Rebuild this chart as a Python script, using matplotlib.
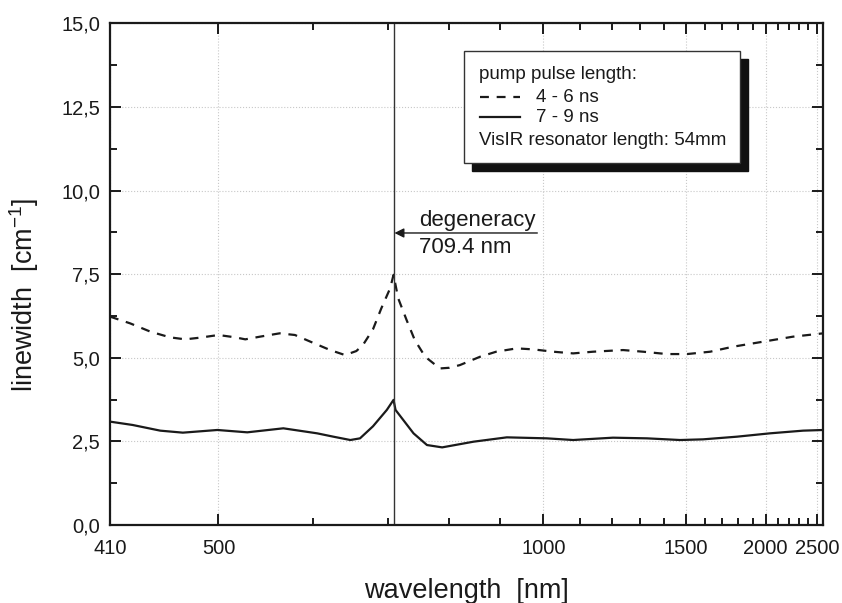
import numpy as np
import matplotlib
matplotlib.use("Agg")
import matplotlib.pyplot as plt
from matplotlib.patches import Rectangle
from matplotlib.ticker import FixedLocator, FuncFormatter

plt.rcParams['font.family'] = ['Liberation Sans', 'DejaVu Sans']

# pump pulse 4 - 6 ns (dashed)
wl_short = [410, 425, 441, 457, 470, 483, 500, 516, 526, 541, 562, 579, 597, 621,
            640, 655, 664, 678, 690, 703, 708, 715, 728, 741, 758, 783, 800, 819,
            858, 891, 936, 975, 1026, 1080, 1139, 1239, 1314, 1413, 1507, 1628,
            1766, 1904, 2061, 2243, 2580]
lw_short = [6.23, 6.03, 5.78, 5.61, 5.55, 5.60, 5.68, 5.61, 5.55, 5.63, 5.73, 5.68, 5.48, 5.23,
            5.08, 5.20, 5.38, 5.85, 6.48, 7.08, 7.48, 6.78, 6.13, 5.53, 5.03, 4.68, 4.70, 4.78,
            5.03, 5.18, 5.28, 5.25, 5.18, 5.13, 5.18, 5.23, 5.18, 5.11, 5.11, 5.18,
            5.33, 5.43, 5.53, 5.63, 5.73]

# pump pulse 7 - 9 ns (solid)
wl_long = [410, 427, 449, 468, 499, 528, 566, 605, 625, 647, 660, 678, 698, 708,
           711, 739, 761, 787, 845, 914, 1009, 1080, 1204, 1329, 1473, 1589,
           1792, 2036, 2346, 2580]
lw_long = [3.09, 2.99, 2.82, 2.76, 2.84, 2.77, 2.89, 2.74, 2.64, 2.54, 2.59, 2.95, 3.44, 3.74,
           3.44, 2.74, 2.39, 2.32, 2.49, 2.62, 2.59, 2.54, 2.61, 2.59, 2.54, 2.56,
           2.64, 2.74, 2.82, 2.84]

degeneracy = 709.4
x_major = [410, 500, 1000, 1500, 2000, 2500]
x_minor = [600, 700, 800, 900, 1100, 1200, 1300, 1400, 1600, 1700, 1800, 1900,
           2100, 2200, 2300, 2400]


# axis is roughly linear in 1/(lambda + 280)
def fwd(x):
    x = np.asarray(x, dtype=float)
    with np.errstate(divide='ignore', invalid='ignore'):
        return -1.0 / (x + 280.0)


def inv(y):
    y = np.asarray(y, dtype=float)
    with np.errstate(divide='ignore', invalid='ignore'):
        return -1.0 / y - 280.0


fig = plt.figure(figsize=(8.42, 6.03), dpi=100)
ax = fig.add_axes([0.1306, 0.1294, 0.8472, 0.832])
ax.set_xscale('function', functions=(fwd, inv))

ink = '#1a1a1a'
ax.plot(wl_short, lw_short, color=ink, lw=1.6, linestyle=(0, (4, 3.5)))
ax.plot(wl_long, lw_long, color=ink, lw=1.6)
ax.axvline(degeneracy, color='#333333', lw=1.0)

ax.set_xlim(410, 2580)
ax.set_ylim(0, 15)

ax.xaxis.set_major_locator(FixedLocator(x_major))
ax.xaxis.set_minor_locator(FixedLocator(x_minor))
ax.xaxis.set_major_formatter(FuncFormatter(lambda v, p: '%d' % round(v)))
ax.xaxis.set_minor_formatter(FuncFormatter(lambda v, p: ''))
ax.set_yticks(np.arange(0, 15.1, 2.5))
ax.set_yticks(np.arange(1.25, 15, 2.5), minor=True)
ax.yaxis.set_major_formatter(FuncFormatter(lambda v, p: ('%.1f' % v).replace('.', ',')))

ax.tick_params(which='both', direction='in', top=True, right=True, width=1.4, colors=ink)
ax.tick_params(which='major', length=8, labelsize=14.5)
ax.tick_params(axis='x', which='major', pad=10)
ax.tick_params(axis='y', which='major', pad=7)
ax.tick_params(which='minor', length=5)
for s in ax.spines.values():
    s.set_linewidth(1.6)
    s.set_color(ink)

ax.grid(True, which='major', linestyle=':', color='#c8c8c8', lw=0.8)

ax.set_xlabel('wavelength  [nm]', fontsize=19.5, color=ink)
ax.set_ylabel('linewidth  [cm$^{\\mathregular{-1}}$]', fontsize=19.5, color=ink)
ax.xaxis.set_label_coords(0.5, -0.105)
ax.yaxis.set_label_coords(-0.097, 0.458)

# degeneracy marker
ax.annotate('', xy=(degeneracy, 8.73), xytext=(985, 8.73),
            arrowprops=dict(arrowstyle='-|>', color=ink, lw=1.0,
                            mutation_scale=14, shrinkA=0, shrinkB=0))
ax.text(748, 8.8, 'degeneracy', fontsize=16, color=ink, ha='left', va='bottom')
ax.text(748, 8.62, '709.4 nm', fontsize=16, color=ink, ha='left', va='top')

# legend box with shadow
bx, by, bw, bh = 0.4963, 0.7222, 0.3869, 0.2226
ax.add_patch(Rectangle((bx + 0.0112, by - 0.0159), bw, bh, transform=ax.transAxes,
                       facecolor='#111111', edgecolor='#111111', zorder=5))
ax.add_patch(Rectangle((bx, by), bw, bh, transform=ax.transAxes,
                       facecolor='white', edgecolor='#333333', lw=1.0, zorder=6))
tx = 0.5173
ax.text(tx, 0.897, 'pump pulse length:', transform=ax.transAxes, fontsize=13.5,
        color=ink, va='center', zorder=7)
ax.plot([0.5187, 0.5748], [0.853, 0.853], transform=ax.transAxes, color=ink, lw=1.6,
        linestyle=(0, (4, 3.5)), zorder=7)
ax.text(0.597, 0.853, '4 - 6 ns', transform=ax.transAxes, fontsize=13.5,
        color=ink, va='center', zorder=7)
ax.plot([0.5187, 0.5748], [0.813, 0.813], transform=ax.transAxes, color=ink, lw=1.6,
        zorder=7)
ax.text(0.597, 0.813, '7 - 9 ns', transform=ax.transAxes, fontsize=13.5,
        color=ink, va='center', zorder=7)
ax.text(tx, 0.767, 'VisIR resonator length: 54mm', transform=ax.transAxes, fontsize=13.5,
        color=ink, va='center', zorder=7)

fig.savefig('out.png', dpi=100)
